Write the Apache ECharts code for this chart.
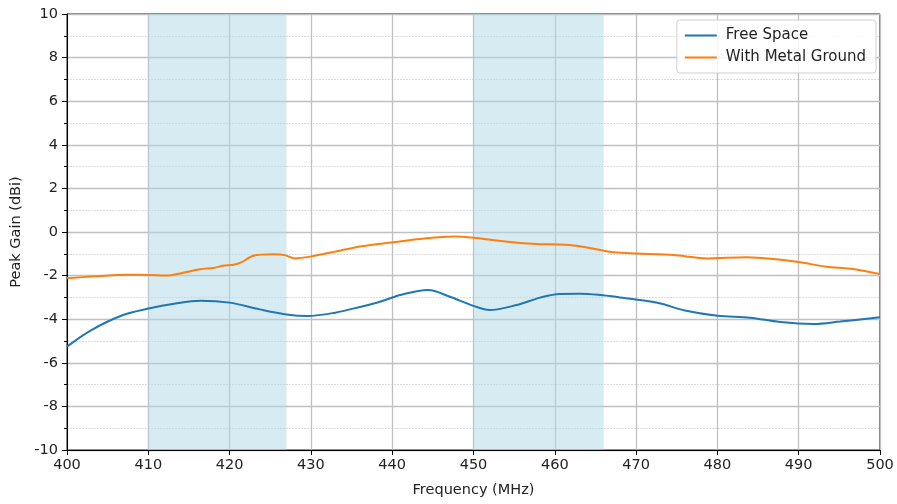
<!DOCTYPE html>
<html><head><meta charset="utf-8">
<script src="https://cdn.jsdelivr.net/npm/echarts@6/dist/echarts.min.js"></script>
<style>html,body{margin:0;padding:0;background:#fff}#c{width:897px;height:504px}</style>
</head><body><div id="c"></div>
<script>
const freeFreq = [400, 403, 406.9, 410.2, 413, 416.4, 420, 423.7, 427, 429.6, 433, 436, 438.5, 441, 444.4, 447.1, 450, 452, 455.3, 458.2, 460.6, 463.1, 465.6, 468, 470.5, 473, 476, 480, 484, 487.7, 491.8, 495.1, 500];
const freeGain = [-5.26, -4.5, -3.81, -3.5, -3.3, -3.15, -3.24, -3.55, -3.78, -3.85, -3.7, -3.44, -3.2, -2.89, -2.66, -2.97, -3.39, -3.58, -3.35, -3.01, -2.84, -2.83, -2.89, -3.0, -3.12, -3.28, -3.6, -3.84, -3.93, -4.13, -4.22, -4.11, -3.91];
const groundFreq = [400, 403.5, 407.3, 410.2, 412.3, 413.9, 416.4, 418, 419.2, 420.5, 421.5, 422.9, 425.4, 426.8, 428, 429.9, 433, 436, 440.1, 444.2, 447.5, 450, 454.5, 457.8, 460.6, 462.7, 465.6, 467.2, 470.1, 474.6, 478.7, 483.6, 486.9, 490, 493.4, 496.7, 500];
const groundGain = [-2.12, -2.03, -1.96, -1.97, -2.0, -1.9, -1.71, -1.65, -1.55, -1.5, -1.38, -1.09, -1.02, -1.06, -1.21, -1.13, -0.9, -0.66, -0.47, -0.29, -0.21, -0.26, -0.46, -0.55, -0.57, -0.63, -0.83, -0.93, -0.99, -1.06, -1.21, -1.16, -1.24, -1.38, -1.59, -1.7, -1.93];
const bands = [[410, 427], [450, 466]];
const seriesNames = ['Free Space', 'With Metal Ground'];
const xTicks = [400, 410, 420, 430, 440, 450, 460, 470, 480, 490, 500];
const yTicks = [-10, -8, -6, -4, -2, 0, 2, 4, 6, 8, 10];

const chart = echarts.init(document.getElementById('c'), null, {renderer: 'canvas'});
const font = 'DejaVu Sans';
chart.setOption({
  animation: false,
  grid: {left: 67, right: 17, top: 14, bottom: 54, show: true, borderColor: '#000', borderWidth: 1, backgroundColor: 'transparent'},
  legend: {
    orient: 'vertical', right: 21, top: 20,
    data: seriesNames,
    itemWidth: 32, itemHeight: 2, itemGap: 7,
    icon: 'rect',
    textStyle: {fontFamily: font, fontSize: 15, color: '#222', padding: [0, 0, 0, 4]},
    backgroundColor: 'rgba(255,255,255,0.85)', borderColor: '#d0d0d0', borderWidth: 1, borderRadius: 3,
    padding: [8, 10, 8, 8]
  },
  xAxis: {
    type: 'value', min: xTicks[0], max: xTicks[xTicks.length - 1], interval: 10,
    name: 'Frequency (MHz)', nameLocation: 'middle', nameGap: 33,
    nameTextStyle: {fontFamily: font, fontSize: 14.5, color: '#222'},
    axisLine: {show: true, onZero: false, lineStyle: {color: '#000', width: 1}},
    axisTick: {show: true, length: 5, inside: false, lineStyle: {color: '#000'}},
    axisLabel: {fontFamily: font, fontSize: 14.5, color: '#222', margin: 8},
    splitLine: {show: true, lineStyle: {color: '#c0c0c0', width: 1.3}}
  },
  yAxis: {
    type: 'value', min: yTicks[0], max: yTicks[yTicks.length - 1], interval: 2,
    name: 'Peak Gain (dBi)', nameLocation: 'middle', nameGap: 41,
    nameTextStyle: {fontFamily: font, fontSize: 14.5, color: '#222'},
    axisLine: {show: true, onZero: false, lineStyle: {color: '#000', width: 1}},
    axisTick: {show: true, length: 5, lineStyle: {color: '#000'}},
    minorTick: {show: true, splitNumber: 2, length: 3, lineStyle: {color: '#000'}},
    minorSplitLine: {show: true, lineStyle: {color: '#dcdcdc', width: 1, type: [2, 1]}},
    axisLabel: {fontFamily: font, fontSize: 14.5, color: '#222', margin: 9},
    splitLine: {show: true, lineStyle: {color: '#c0c0c0', width: 1.3}}
  },
  series: [
    {
      name: seriesNames[0], type: 'line', smooth: 0.35, symbol: 'none',
      lineStyle: {color: '#1f77b4', width: 2}, itemStyle: {color: '#1f77b4'},
      data: freeFreq.map((f, i) => [f, freeGain[i]]),
      markArea: {silent: true, itemStyle: {color: 'rgba(173,216,230,0.5)'},
        data: bands.map(b => [{xAxis: b[0]}, {xAxis: b[1]}])},
      z: 3
    },
    {
      name: seriesNames[1], type: 'line', smooth: 0.25, symbol: 'none',
      lineStyle: {color: '#ff7f0e', width: 2}, itemStyle: {color: '#ff7f0e'},
      data: groundFreq.map((f, i) => [f, groundGain[i]]),
      z: 3
    }
  ]
});
</script></body></html>
